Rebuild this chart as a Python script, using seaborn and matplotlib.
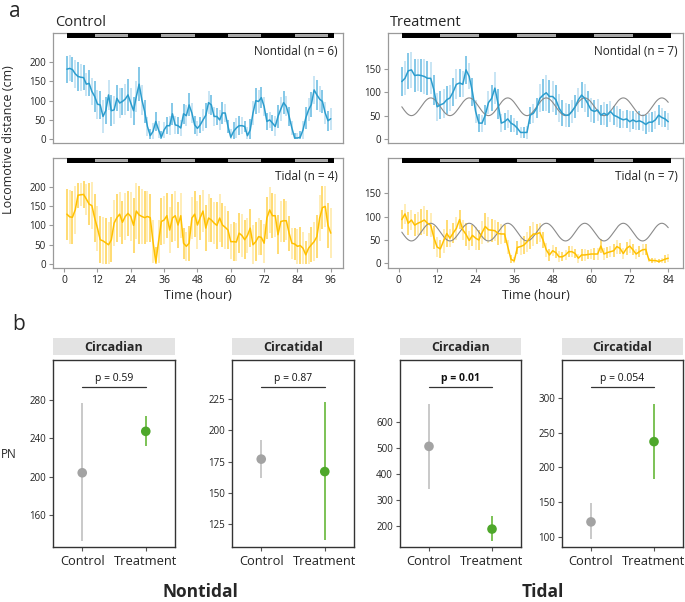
import numpy as np
import matplotlib
matplotlib.use('Agg')
import matplotlib.pyplot as plt
import matplotlib.transforms as mtransforms
from matplotlib.patches import Rectangle
import seaborn as sns

# ---------------- data: panel a (locomotion tracks) ----------------
hours_ctrl = np.arange(1, 97)
hours_trt = np.arange(1, 85)

ctrl_nontidal = [182, 184, 181, 170, 163, 161, 160, 143, 145, 124, 111, 91,
                 89, 59, 74, 115, 74, 76, 106, 94, 98, 104, 115, 94,
                 74, 111, 143, 102, 72, 33, 9, 20, 46, 24, 5, 24,
                 35, 35, 66, 37, 35, 29, 66, 61, 89, 68, 37, 28,
                 37, 50, 62, 95, 89, 59, 59, 50, 68, 68, 33, 5,
                 20, 29, 35, 35, 33, 9, 24, 68, 100, 98, 108, 85,
                 46, 50, 42, 33, 59, 78, 95, 85, 59, 29, 3, 3,
                 5, 24, 55, 76, 90, 128, 115, 104, 98, 68, 48, 53]
ctrl_nontidal_err = [35, 34, 33, 36, 38, 35, 32, 30, 34, 36, 40, 38,
                     36, 42, 35, 38, 40, 36, 34, 38, 35, 40, 42, 38,
                     36, 40, 45, 38, 30, 25, 18, 22, 24, 22, 16, 20,
                     22, 25, 28, 24, 22, 20, 26, 28, 30, 26, 24, 20,
                     20, 28, 32, 30, 26, 24, 22, 26, 28, 24, 18, 22,
                     24, 26, 25, 22, 15, 22, 28, 32, 34, 30, 28, 24,
                     22, 20, 22, 26, 30, 32, 30, 26, 24, 18, 12, 12,
                     16, 24, 28, 30, 32, 36, 40, 34, 30, 28, 26, 28]

ctrl_tidal = [129, 122, 121, 140, 178, 179, 180, 168, 155, 151, 119, 93,
              63, 60, 55, 50, 63, 106, 120, 129, 108, 123, 131, 123,
              100, 137, 127, 123, 120, 123, 120, 58, 5, 58, 110, 114,
              125, 88, 119, 125, 101, 125, 54, 46, 54, 119, 129, 101,
              120, 137, 93, 119, 114, 106, 100, 119, 101, 95, 88, 58,
              58, 57, 80, 74, 63, 74, 93, 50, 58, 71, 69, 54,
              119, 140, 125, 125, 76, 110, 112, 112, 80, 54, 52, 46,
              48, 41, 24, 41, 50, 58, 71, 119, 146, 149, 100, 80]
ctrl_tidal_err = [66, 70, 68, 62, 32, 30, 35, 40, 55, 60, 62, 58,
                  60, 62, 65, 60, 58, 60, 62, 58, 55, 60, 58, 62,
                  70, 72, 75, 70, 68, 65, 62, 55, 40, 55, 60, 62,
                  58, 60, 62, 65, 60, 58, 40, 38, 45, 55, 60, 62,
                  58, 55, 60, 62, 58, 55, 60, 62, 58, 55, 50, 45,
                  50, 48, 52, 55, 50, 45, 50, 52, 50, 48, 45, 50,
                  55, 60, 58, 55, 50, 52, 55, 50, 45, 40, 42, 45,
                  48, 42, 35, 40, 45, 50, 55, 60, 55, 52, 58, 65]

trt_nontidal = [123, 130, 146, 148, 136, 137, 136, 134, 130, 130, 105, 69,
                73, 76, 84, 88, 101, 117, 120, 117, 148, 134, 101, 59,
                34, 34, 51, 78, 87, 109, 75, 34, 37, 43, 34, 30,
                23, 14, 14, 14, 51, 55, 66, 87, 94, 99, 91, 91,
                84, 66, 55, 51, 51, 59, 69, 84, 94, 87, 75, 62,
                59, 62, 51, 55, 51, 59, 51, 48, 44, 41, 43, 37,
                41, 37, 39, 36, 31, 36, 36, 41, 51, 46, 43, 37]
trt_nontidal_err = [32, 36, 38, 38, 36, 34, 36, 38, 36, 34, 32, 30,
                    30, 32, 30, 28, 30, 32, 30, 28, 30, 28, 30, 25,
                    20, 18, 22, 25, 28, 35, 32, 20, 18, 20, 18, 16,
                    15, 12, 12, 14, 18, 20, 22, 30, 35, 38, 36, 34,
                    32, 30, 28, 26, 25, 24, 25, 26, 28, 30, 28, 26,
                    25, 24, 22, 24, 25, 22, 20, 22, 20, 18, 20, 22,
                    20, 18, 20, 18, 20, 20, 22, 20, 22, 20, 18, 18]

trt_tidal = [94, 106, 86, 93, 82, 86, 89, 93, 86, 82, 55, 35,
             31, 48, 64, 54, 65, 75, 94, 72, 62, 49, 60, 54,
             50, 66, 79, 72, 71, 70, 64, 63, 63, 36, 9, 5,
             34, 36, 39, 46, 56, 63, 63, 66, 50, 29, 18, 27,
             23, 14, 14, 18, 25, 25, 21, 11, 18, 18, 19, 20,
             20, 20, 37, 20, 23, 25, 27, 36, 32, 21, 32, 37,
             29, 20, 25, 29, 30, 7, 6, 6, 4, 6, 9, 11]
trt_tidal_err = [20, 22, 25, 22, 24, 25, 28, 30, 28, 25, 25, 22,
                 20, 25, 28, 20, 22, 25, 20, 22, 25, 20, 22, 25,
                 22, 25, 28, 28, 25, 22, 25, 22, 20, 15, 8, 8,
                 15, 18, 20, 22, 25, 25, 22, 20, 18, 15, 12, 12,
                 12, 12, 10, 10, 12, 12, 10, 10, 12, 12, 10, 10,
                 12, 12, 15, 12, 12, 12, 14, 15, 12, 12, 14, 15,
                 12, 10, 12, 12, 12, 5, 5, 5, 5, 6, 8, 8]

# cosinor fit drawn on the treatment tracks (mesor, amplitude)
fit_period = 12.0
fit_peak_hour = 10.0
trt_nontidal_fit = (69, 19)
trt_tidal_fit = (67, 19)

# light regime bars (black / grey alternating, starting black)
ctrl_light_edges = [1, 11, 23, 35, 47, 59, 71, 83, 95, 97]
trt_light_edges = [1, 13, 25, 37, 49, 61, 73, 85]

# ---------------- data: panel b (PN) ----------------
groups = ['Control', 'Treatment']
pn_titles = ['Circadian', 'Circatidal', 'Circadian', 'Circatidal']
pn_mean = [[204, 247], [177, 167], [505, 187], [122, 237]]
pn_low = [[133, 232], [162, 112], [342, 141], [97, 183]]
pn_high = [[276, 263], [192, 223], [669, 236], [149, 291]]
pn_pvals = ['p = 0.59', 'p = 0.87', 'p = 0.01', 'p = 0.054']
pn_bold = [False, False, True, False]
pn_ticks = [[160, 200, 240, 280], [125, 150, 175, 200, 225],
            [200, 300, 400, 500, 600], [100, 150, 200, 250, 300]]

# ---------------- style ----------------
sns.set_style('white')
plt.rcParams['font.family'] = ['Open Sans', 'DejaVu Sans']

W, H = 685, 602
fig = plt.figure(figsize=(W / 100, H / 100), dpi=100)


def add_ax(x0, y0, x1, y1):
    return fig.add_axes([x0 / W, 1 - y1 / H, (x1 - x0) / W, (y1 - y0) / H])


blue_line = '#2b9ccd'
blue_bars = ['#63b9e2', '#b9def1']
yel_line = '#ffc000'
yel_bars = ['#ffd24d', '#ffe8a3']


def draw_track(ax, hours, vals, errs, line_col, bar_cols, xlim, ylim, yticks,
               label, edges, fit=None, xticks=None):
    vals = np.asarray(vals, float)
    errs = np.asarray(errs, float)
    low = np.clip(vals - errs, 0, None)
    high = vals + errs
    cols = [bar_cols[i % 2] for i in range(len(hours))]
    ax.vlines(hours, low, high, colors=cols, linewidth=1.1, zorder=1)
    if fit is not None:
        mesor, amp = fit
        tt = np.linspace(hours[0], hours[-1], 400)
        curve = mesor + amp * np.cos(2 * np.pi * (tt - fit_peak_hour) / fit_period)
        sns.lineplot(x=tt, y=curve, ax=ax, color='#8a8a8a', linewidth=0.8, zorder=2)
    sns.lineplot(x=hours, y=vals, ax=ax, color=line_col, linewidth=1.1, zorder=3)

    ax.set_xlim(*xlim)
    ax.set_ylim(*ylim)
    ax.set_yticks(yticks)
    ax.set_ylabel('')
    for s in ax.spines.values():
        s.set_color('#9a9a9a')
        s.set_linewidth(0.9)
    ax.tick_params(axis='y', length=3, width=0.8, color='#9a9a9a', labelsize=7,
                   labelcolor='#222222', pad=2, left=True)
    if xticks is None:
        ax.set_xticks([])
    else:
        ax.set_xticks(xticks)
        ax.tick_params(axis='x', length=3, width=0.8, color='#9a9a9a', labelsize=7.5,
                       labelcolor='#222222', pad=2, bottom=True)
        ax.set_xlabel('Time (hour)', fontsize=9, labelpad=2)

    trans = mtransforms.blended_transform_factory(ax.transData, ax.transAxes)
    ax.add_patch(Rectangle((edges[0], 0.955), edges[-1] - edges[0], 0.045,
                           facecolor='black', edgecolor='none', transform=trans, zorder=4))
    for i in range(1, len(edges) - 1, 2):
        ax.add_patch(Rectangle((edges[i], 0.967), edges[i + 1] - edges[i], 0.022,
                               facecolor='#a8a8a8', edgecolor='none', transform=trans, zorder=5))
    ax.text(0.983, 0.83, label, transform=ax.transAxes, ha='right', va='center',
            fontsize=8.5, color='#222222')


ctrl_xlim = (-4, 100.4)
trt_xlim = (-3.3, 88.6)

ax1 = add_ax(53, 33, 343, 143)
draw_track(ax1, hours_ctrl, ctrl_nontidal, ctrl_nontidal_err, blue_line, blue_bars,
           ctrl_xlim, (-10, 276), [0, 50, 100, 150, 200], 'Nontidal (n = 6)', ctrl_light_edges)
ax2 = add_ax(53, 158, 343, 268)
draw_track(ax2, hours_ctrl, ctrl_tidal, ctrl_tidal_err, yel_line, yel_bars,
           ctrl_xlim, (-10, 274), [0, 50, 100, 150, 200], 'Tidal (n = 4)', ctrl_light_edges,
           xticks=list(range(0, 97, 12)))
ax3 = add_ax(388, 33, 683, 143)
draw_track(ax3, hours_trt, trt_nontidal, trt_nontidal_err, blue_line, blue_bars,
           trt_xlim, (-8.6, 227), [0, 50, 100, 150], 'Nontidal (n = 7)', trt_light_edges,
           fit=trt_nontidal_fit)
ax4 = add_ax(388, 158, 683, 268)
draw_track(ax4, hours_trt, trt_tidal, trt_tidal_err, yel_line, yel_bars,
           trt_xlim, (-10, 226), [0, 50, 100, 150], 'Tidal (n = 7)', trt_light_edges,
           fit=trt_tidal_fit, xticks=list(range(0, 85, 12)))

fig.text(55 / W, 1 - 22 / H, 'Control', fontsize=10.5, va='center', ha='left')
fig.text(390 / W, 1 - 22 / H, 'Treatment', fontsize=10.5, va='center', ha='left')
fig.text(9 / W, 1 - 1 / H, 'a', fontsize=15, va='top', ha='left')
fig.text(9 / W, 1 - 140 / H, 'Locomotive distance (cm)', fontsize=9, rotation=90,
         va='center', ha='center')

# ---------------- panel b ----------------
fig.text(12 / W, 1 - 324 / H, 'b', fontsize=15, va='center', ha='left')
fig.text(1 / W, 1 - 455 / H, 'PN', fontsize=8.5, va='center', ha='left')

pn_x = [(53, 175), (232, 354), (400, 521), (562, 683)]
pn_ylim = [(127, 321), (106.5, 256.5), (118, 837), (86, 354)]
ctrl_cols = ('#a3a3a3', '#c9c9c9')
trt_cols = ('#4ea72b', '#7cc255')

for k in range(4):
    x0, x1 = pn_x[k]
    ax = add_ax(x0, 360, x1, 547)
    xs = np.arange(len(groups))
    pt_cols = [ctrl_cols[0], trt_cols[0]]
    bar_cols = [ctrl_cols[1], trt_cols[1]]
    ax.vlines(xs, pn_low[k], pn_high[k], colors=bar_cols, linewidth=1.4, zorder=1)
    sns.scatterplot(x=xs, y=pn_mean[k], hue=groups, palette=pt_cols, s=48,
                    edgecolor='none', ax=ax, legend=False, zorder=3)
    ax.set_xlim(-0.46, 1.46)
    ax.set_ylim(*pn_ylim[k])
    ax.set_yticks(pn_ticks[k])
    ax.set_xticks(xs)
    ax.set_xticklabels(groups)
    ax.set_xlabel('')
    ax.set_ylabel('')
    for s in ax.spines.values():
        s.set_color('#333333')
        s.set_linewidth(1.0)
    ax.tick_params(axis='y', length=3, width=0.8, color='#555555', labelsize=7,
                   labelcolor='#222222', pad=2, left=True)
    ax.tick_params(axis='x', length=3, width=0.8, color='#555555', labelsize=9.3,
                   labelcolor='#222222', pad=3, bottom=True)
    xtr = ax.get_xaxis_transform()
    ax.plot([0, 1], [0.857, 0.857], color='#333333', linewidth=0.9, transform=xtr)
    ax.text(0.5, 0.872, pn_pvals[k], transform=xtr, ha='center', va='bottom',
            fontsize=7.5, fontweight='bold' if pn_bold[k] else 'normal', color='#111111')

    st = add_ax(x0, 338, x1, 355)
    st.set_facecolor('#e3e3e3')
    for s in st.spines.values():
        s.set_visible(False)
    st.set_xticks([])
    st.set_yticks([])
    st.text(0.5, 0.45, pn_titles[k], transform=st.transAxes, ha='center', va='center',
            fontsize=9, fontweight='bold')

fig.text(200 / W, 1 - 592 / H, 'Nontidal', fontsize=12.5, fontweight='bold',
         ha='center', va='center')
fig.text(543 / W, 1 - 592 / H, 'Tidal', fontsize=12.5, fontweight='bold',
         ha='center', va='center')

fig.savefig('out.png', dpi=100)
